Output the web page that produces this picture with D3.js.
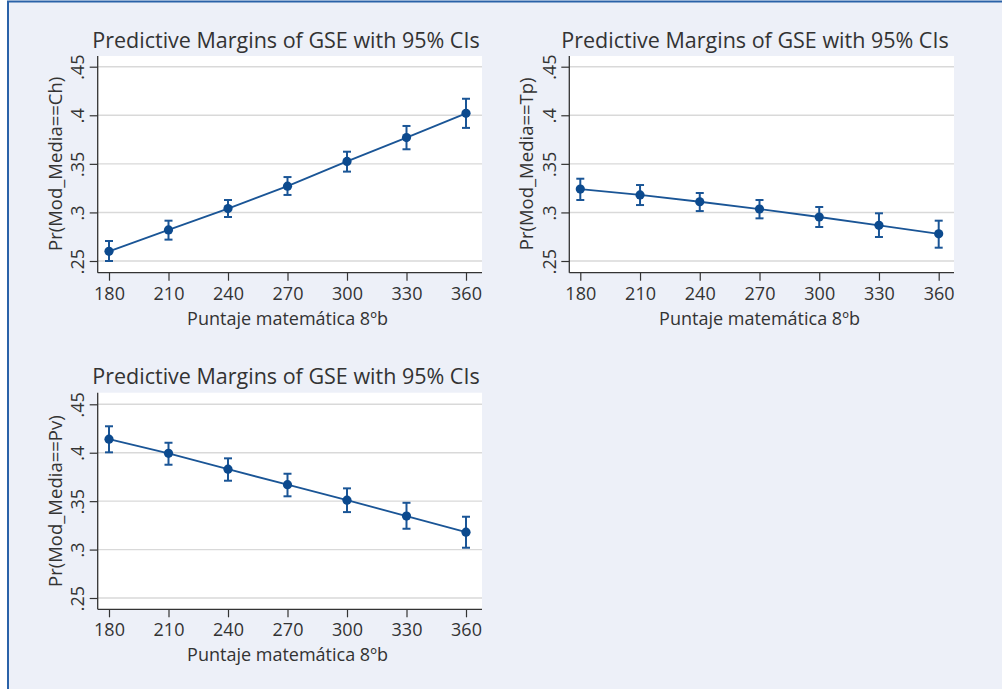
<!DOCTYPE html>
<html>
<head>
<meta charset="utf-8">
<script src="https://cdn.jsdelivr.net/npm/d3@7"></script>
<style>
  html, body { margin: 0; padding: 0; background: #ffffff; }
  svg { display: block; }
  text { font-family: "Open Sans", "Noto Sans", sans-serif; fill: #333333; }
</style>
</head>
<body>
<svg id="chart" width="1002" height="689"></svg>
<script>
// ---------------- data ----------------
const xValues = [180, 210, 240, 270, 300, 330, 360];
const xTickValues = [180, 210, 240, 270, 300, 330, 360];
const xTickLabels = ["180", "210", "240", "270", "300", "330", "360"];
const yTickValues = [0.25, 0.30, 0.35, 0.40, 0.45];
const yTickLabels = [".25", ".3", ".35", ".4", ".45"];

const chMargin = [0.260, 0.282, 0.304, 0.327, 0.3525, 0.377, 0.402];
const chLower  = [0.250, 0.272, 0.2953, 0.318, 0.342, 0.365, 0.387];
const chUpper  = [0.2706, 0.2915, 0.3128, 0.3364, 0.3625, 0.389, 0.417];

const tpMargin = [0.324, 0.318, 0.311, 0.3035, 0.2953, 0.2867, 0.278];
const tpLower  = [0.3128, 0.3076, 0.3014, 0.2939, 0.285, 0.2747, 0.2637];
const tpUpper  = [0.3347, 0.3282, 0.320, 0.3128, 0.3056, 0.2991, 0.2915];

const pvMargin = [0.414, 0.3994, 0.383, 0.367, 0.351, 0.3346, 0.318];
const pvLower  = [0.4004, 0.3876, 0.3711, 0.3550, 0.3387, 0.3215, 0.3019];
const pvUpper  = [0.4273, 0.4103, 0.3942, 0.3783, 0.3632, 0.3483, 0.3339];

const panelTitle = "Predictive Margins of GSE with 95% CIs";
const xTitle = "Puntaje matemática 8ºb";
const yTitles = ["Pr(Mod_Media==Ch)", "Pr(Mod_Media==Tp)", "Pr(Mod_Media==Pv)"];

// ---------------- layout ----------------
const svg = d3.select("#chart");
const BG = "#edf0f8";
const FRAME = "#2a62a8";
const LINE = "#1a5596";
const MARK = "#0c4a8e";
const FONT = '"Open Sans", "Noto Sans", sans-serif';

svg.append("rect").attr("x", 0).attr("y", 0).attr("width", 1002).attr("height", 689).attr("fill", "#ffffff");
svg.append("rect").attr("x", 8).attr("y", 1.5).attr("width", 1002).attr("height", 700)
  .attr("fill", BG).attr("stroke", FRAME).attr("stroke-width", 2);

const panels = [
  { m: chMargin, lo: chLower, hi: chUpper, yTitle: yTitles[0],
    left: 97.7, right: 482, top: 56, bottom: 272.7,
    xr: [109, 466], yr: [261, 66.7], titleX: 286, titleY: 48, tickY: 300, xTitleY: 325 },
  { m: tpMargin, lo: tpLower, hi: tpUpper, yTitle: yTitles[1],
    left: 569.3, right: 954, top: 56, bottom: 272.7,
    xr: [580.3, 938.7], yr: [261, 66.7], titleX: 755, titleY: 48, tickY: 300, xTitleY: 325 },
  { m: pvMargin, lo: pvLower, hi: pvUpper, yTitle: yTitles[2],
    left: 97.7, right: 482, top: 392.7, bottom: 609.3,
    xr: [109, 466], yr: [598, 404.3], titleX: 286, titleY: 384, tickY: 636, xTitleY: 661 }
];

panels.forEach(p => {
  const g = svg.append("g");
  const x = d3.scaleLinear().domain([180, 360]).range(p.xr);
  const y = d3.scaleLinear().domain([0.25, 0.45]).range(p.yr);

  // plot region
  g.append("rect").attr("x", p.left).attr("y", p.top)
    .attr("width", p.right - p.left).attr("height", p.bottom - p.top).attr("fill", "#ffffff");

  // gridlines
  g.selectAll("line.grid").data(yTickValues).enter().append("line")
    .attr("class", "grid")
    .attr("x1", p.left).attr("x2", p.right)
    .attr("y1", d => y(d)).attr("y2", d => y(d))
    .attr("stroke", "#d9d9d9").attr("stroke-width", 1.4);

  // y axis
  const yAxis = d3.axisLeft(y).tickValues(yTickValues)
    .tickFormat((d, i) => yTickLabels[i]).tickSize(8).tickSizeOuter(0);
  const ya = g.append("g").attr("transform", `translate(${p.left},0)`).call(yAxis);
  ya.select(".domain").remove();
  ya.selectAll(".tick line").attr("stroke", "#333").attr("stroke-width", 1.2);
  ya.selectAll(".tick text")
    .attr("x", 0).attr("dy", null).attr("y", 0)
    .attr("transform", "translate(-13.5,0) rotate(-90)")
    .attr("text-anchor", "middle")
    .attr("font-size", 18).attr("fill", "#333")
    .style("font-family", FONT);
  g.append("line").attr("x1", p.left).attr("x2", p.left).attr("y1", p.top).attr("y2", p.bottom)
    .attr("stroke", "#333").attr("stroke-width", 1.3);

  // x axis
  const xAxis = d3.axisBottom(x).tickValues(xTickValues)
    .tickFormat((d, i) => xTickLabels[i]).tickSize(8).tickSizeOuter(0);
  const xa = g.append("g").attr("transform", `translate(0,${p.bottom})`).call(xAxis);
  xa.select(".domain").remove();
  xa.selectAll(".tick line").attr("stroke", "#333").attr("stroke-width", 1.2);
  xa.selectAll(".tick text")
    .attr("y", p.tickY - p.bottom).attr("dy", null)
    .attr("font-size", 18).attr("fill", "#333")
    .style("font-family", FONT);
  g.append("line").attr("x1", p.left).attr("x2", p.right).attr("y1", p.bottom).attr("y2", p.bottom)
    .attr("stroke", "#333").attr("stroke-width", 1.3);

  // titles
  g.append("text").attr("x", p.titleX).attr("y", p.titleY).attr("text-anchor", "middle")
    .attr("font-size", 21.5).text(panelTitle);
  g.append("text").attr("x", (p.xr[0] + p.xr[1]) / 2).attr("y", p.xTitleY).attr("text-anchor", "middle")
    .attr("font-size", 18).text(xTitle);
  const ycen = (p.yr[0] + p.yr[1]) / 2;
  g.append("text").attr("transform", `translate(${p.left - 36},${ycen}) rotate(-90)`)
    .attr("text-anchor", "middle").attr("font-size", 18.5).text(p.yTitle);

  // series
  const data = xValues.map((v, i) => ({ x: v, m: p.m[i], lo: p.lo[i], hi: p.hi[i] }));
  const line = d3.line().x(d => x(d.x)).y(d => y(d.m));
  g.append("path").datum(data).attr("d", line).attr("fill", "none")
    .attr("stroke", LINE).attr("stroke-width", 1.8);

  const eb = g.selectAll("g.eb").data(data).enter().append("g").attr("class", "eb");
  eb.append("line").attr("x1", d => x(d.x)).attr("x2", d => x(d.x))
    .attr("y1", d => y(d.lo)).attr("y2", d => y(d.hi))
    .attr("stroke", LINE).attr("stroke-width", 2);
  eb.append("line").attr("x1", d => x(d.x) - 4).attr("x2", d => x(d.x) + 4)
    .attr("y1", d => y(d.lo)).attr("y2", d => y(d.lo))
    .attr("stroke", LINE).attr("stroke-width", 2);
  eb.append("line").attr("x1", d => x(d.x) - 4).attr("x2", d => x(d.x) + 4)
    .attr("y1", d => y(d.hi)).attr("y2", d => y(d.hi))
    .attr("stroke", LINE).attr("stroke-width", 2);
  eb.append("circle").attr("cx", d => x(d.x)).attr("cy", d => y(d.m)).attr("r", 4.6)
    .attr("fill", MARK);
});
</script>
</body>
</html>
